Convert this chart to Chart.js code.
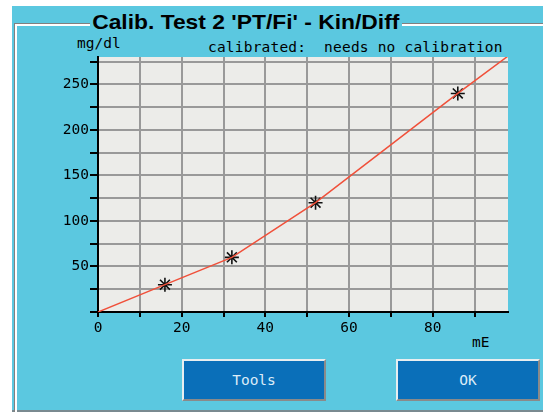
<!DOCTYPE html>
<html>
<head>
<meta charset="utf-8">
<script src="https://cdn.jsdelivr.net/npm/chart.js@4/dist/chart.umd.min.js"></script>
<style>
  body { margin: 0; background: #fff; width: 543px; height: 412px; overflow: hidden; position: relative; }
  #fondo { position: absolute; left: 12px; top: 6px; width: 531px; height: 404px; background: #5bc8e0; border-bottom: 2px solid #7a8a90; }
  #grupo { position: absolute; left: 14px; top: 23px; width: 540px; height: 400px; border-top: 1px solid #808080; border-left: 1px solid #808080; box-shadow: inset 1px 1px 0 #fff, inset 2px 2px 0 #fff; }
  #titulo { position: absolute; left: 90px; top: 10px; font: bold 21px "Liberation Sans", Arial, sans-serif; color: #000; background: #5bc8e0; padding: 0 2px; white-space: nowrap; transform-origin: 0 0; }
  .mono { position: absolute; font: 14.5px "DejaVu Sans Mono", monospace; color: #000; white-space: pre; }
  canvas { position: absolute; left: 0; top: 0; }
  .boton { position: absolute; top: 359px; width: 140px; height: 38px; background: #0a6fb9; border: 2px solid; border-color: #e8eef0 #8a8a8a #8a8a8a #e8eef0; color: #dcecf8; font: 14.5px "DejaVu Sans Mono", monospace; text-align: center; line-height: 38px; }
</style>
</head>
<body>
<div id="fondo"></div>
<div id="grupo"></div>
<div id="titulo">Calib. Test 2 'PT/Fi' - Kin/Diff</div>
<div class="mono" style="left:77px; top:35px;">mg/dl</div>
<div class="mono" style="left:208px; top:39px; letter-spacing:0.2px;">calibrated:  needs no calibration</div>
<div class="mono" style="left:472px; top:334px;">mE</div>
<canvas id="grafico" width="543" height="412"></canvas>
<div class="boton" style="left:182px;">Tools</div>
<div class="boton" style="left:396px;">OK</div>
<script>
const puntosX = [16, 32, 52, 86];
const puntosY = [30, 60, 120, 240];
const curvaX = [0, 16, 32, 52, 86, 98];
const curvaY = [0, 30, 60, 120, 240, 281];

const titulo = document.getElementById("titulo");
titulo.style.transform = "scaleX(" + (312 / titulo.offsetWidth) + ")";

const fondoGrafico = {
  id: "fondoGrafico",
  beforeDraw(chart) {
    const a = chart.chartArea;
    const ctx = chart.ctx;
    ctx.save();
    ctx.fillStyle = "#ecece9";
    ctx.fillRect(a.left, a.top, a.right - a.left, a.bottom - a.top);
    ctx.restore();
  },
};

Chart.defaults.font.family = "DejaVu Sans Mono";
Chart.defaults.font.size = 14.5;
Chart.defaults.color = "#000";

const ctx = document.getElementById("grafico").getContext("2d");

new Chart(ctx, {
  type: "scatter",
  data: {
    datasets: [
      {
        label: "curva",
        data: curvaX.map((x, i) => ({ x: x, y: curvaY[i] })),
        showLine: true,
        borderColor: "#f0503a",
        borderWidth: 1.5,
        pointRadius: 0,
      },
      {
        label: "medidas",
        data: puntosX.map((x, i) => ({ x: x, y: puntosY[i] })),
        pointStyle: "star",
        pointRadius: 7,
        borderColor: "#111",
        borderWidth: 1.6,
        backgroundColor: "#111",
      },
    ],
  },
  options: {
    responsive: false,
    animation: false,
    layout: { padding: { left: 0, right: 35, top: 57, bottom: 70 } },
    plugins: { legend: { display: false }, tooltip: { enabled: false } },
    scales: {
      x: {
        type: "linear",
        min: 0,
        max: 98,
        afterFit: (s) => { s.height = 30; },
        border: { color: "#000", width: 2 },
        grid: { color: "#999", lineWidth: 2, tickColor: "#000", tickLength: 5 },
        ticks: {
          stepSize: 10,
          includeBounds: false,
          maxRotation: 0,
          autoSkip: false,
          padding: 3,
          callback: (v) => (v % 20 === 0 ? v : ""),
        },
      },
      y: {
        type: "linear",
        min: 0,
        max: 280,
        afterFit: (s) => { s.width = 98; },
        border: { color: "#000", width: 2 },
        grid: { color: "#999", lineWidth: 2, tickColor: "#000", tickLength: 8 },
        ticks: {
          stepSize: 25,
          includeBounds: false,
          autoSkip: false,
          padding: 1,
          callback: (v) => (v % 50 === 0 && v > 0 ? v : ""),
        },
      },
    },
  },
  plugins: [fondoGrafico],
});
</script>
</body>
</html>
